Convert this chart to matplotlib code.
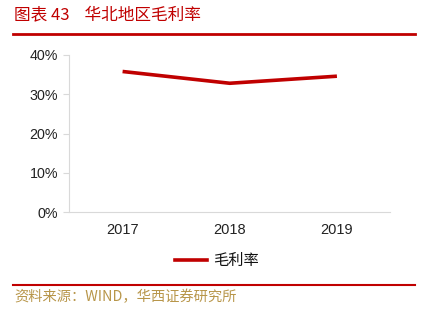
import matplotlib
matplotlib.use("Agg")
import matplotlib.pyplot as plt
from matplotlib.lines import Line2D

plt.rcParams['font.family'] = ['Noto Sans CJK SC', 'DejaVu Sans']

years = ["2017", "2018", "2019"]
margin = [35.8, 32.8, 34.6]
yticks = [0, 10, 20, 30, 40]
ytick_labels = ["0%", "10%", "20%", "30%", "40%"]
series_name = "毛利率"
title = "图表 43    华北地区毛利率"
source = "资料来源：WIND，华西证券研究所"

W, H = 426, 310
fig = plt.figure(figsize=(W / 100, H / 100), dpi=100)

red = "#c00000"
ax = fig.add_axes([69 / W, 1 - 212 / H, (390.5 - 69) / W, (212 - 55) / H])
x = list(range(len(years)))
ax.plot(x, margin, color=red, lw=2.6, solid_capstyle="butt")
ax.set_xlim(-0.5, len(years) - 0.5)
ax.set_ylim(0, 40)
ax.set_xticks(x)
ax.set_xticklabels(years, fontsize=10.5, family=["Liberation Sans", "DejaVu Sans"])
ax.set_yticks(yticks)
ax.set_yticklabels(ytick_labels, fontsize=10.3, family=["Liberation Sans", "DejaVu Sans"])
for s in ["top", "right"]:
    ax.spines[s].set_visible(False)
for s in ["left", "bottom"]:
    ax.spines[s].set_color("#d9d9d9")
    ax.spines[s].set_linewidth(0.8)
ax.tick_params(axis="y", length=4, color="#d9d9d9", pad=4, labelcolor="#222222")
ax.tick_params(axis="x", length=0, pad=8, labelcolor="#222222")

# title
fig.text(14 / W, 1 - 15 / H, title, color=red, fontsize=12, weight="light",
         va="center", ha="left")
fig.add_artist(Line2D([13 / W, 415 / W], [1 - 34 / H, 1 - 34 / H], color=red, lw=2))

# legend
fig.add_artist(Line2D([175 / W, 207 / W], [1 - 260 / H, 1 - 260 / H], color=red, lw=2.6))
fig.text(213 / W, 1 - 260 / H, series_name, fontsize=11, weight="light",
         va="center", ha="left", color="#111111")

# footer
fig.add_artist(Line2D([13 / W, 415 / W], [1 - 285 / H, 1 - 285 / H], color=red, lw=1.5))
fig.text(14 / W, 1 - 297 / H, source, color="#b8964a", fontsize=10.3, weight="light",
         va="center", ha="left")

fig.savefig("out.png", dpi=100)
